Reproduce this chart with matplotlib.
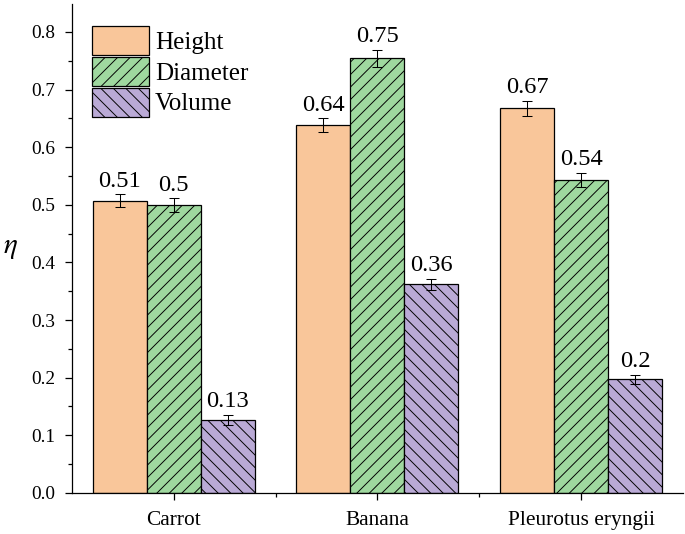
import matplotlib
matplotlib.use('Agg')
import matplotlib.pyplot as plt
import numpy as np
from matplotlib.ticker import MultipleLocator, FixedLocator

plt.rcParams['font.family'] = ['Liberation Serif', 'DejaVu Serif']
plt.rcParams['mathtext.fontset'] = 'stix'
plt.rcParams['hatch.linewidth'] = 0.9

# data
categories = ['Carrot', 'Banana', 'Pleurotus eryngii']
series = ['Height', 'Diameter', 'Volume']
height = [0.507, 0.638, 0.668]
diameter = [0.499, 0.754, 0.543]
volume = [0.126, 0.362, 0.197]
height_err = [0.011, 0.012, 0.013]
diameter_err = [0.012, 0.015, 0.012]
volume_err = [0.009, 0.010, 0.008]
height_lbl = ['0.51', '0.64', '0.67']
diameter_lbl = ['0.5', '0.75', '0.54']
volume_lbl = ['0.13', '0.36', '0.2']

colors = ['#f9c69a', '#9fd89f', '#baaad6']
hatches = ['', '//', '\\\\']

# dpi 75 so the hatch spacing matches the original
fig = plt.figure(figsize=(685/75, 534/75), dpi=75)
ax = fig.add_axes([0.105, 0.077, 0.892, 0.916])

x = np.arange(1, len(categories) + 1)
w = 0.265
vals = [height, diameter, volume]
errs = [height_err, diameter_err, volume_err]
lbls = [height_lbl, diameter_lbl, volume_lbl]

for i in range(3):
    pos = x + (i - 1) * w
    ax.bar(pos, vals[i], w, color=colors[i], edgecolor='black', linewidth=1.2,
           hatch=hatches[i], label=series[i], zorder=2)
    ax.errorbar(pos, vals[i], yerr=errs[i], fmt='none', ecolor='black',
                elinewidth=1.0, capsize=5, capthick=1.0, zorder=3)
    for p, v, e, t in zip(pos, vals[i], errs[i], lbls[i]):
        ax.text(p, v + e + 0.005, t, ha='center', va='bottom', fontsize=23.5)

ax.set_xlim(0.5, 3.5)
ax.set_ylim(0, 0.849)
ax.set_xticks(x)
ax.set_xticklabels(categories, fontsize=20.5)
ax.xaxis.set_minor_locator(FixedLocator([1.5, 2.5]))
ax.yaxis.set_minor_locator(MultipleLocator(0.05))
ax.set_yticks(np.arange(0, 0.81, 0.1))
ax.set_yticklabels(['%.1f' % v for v in np.arange(0, 0.81, 0.1)], fontsize=18.5)
ax.tick_params(axis='both', which='major', direction='out', width=1.2, length=7)
ax.tick_params(axis='both', which='minor', direction='out', width=1.2, length=4)
ax.tick_params(axis='x', which='major', pad=10)
ax.tick_params(axis='y', which='major', pad=9)

for s in ['top', 'right']:
    ax.spines[s].set_visible(False)
for s in ['left', 'bottom']:
    ax.spines[s].set_linewidth(1.2)

ax.set_ylabel(r'$\eta$', fontsize=28, rotation=0, va='center', ha='center')
ax.yaxis.set_label_coords(-0.1, 0.5)

ax.legend(loc='upper left', bbox_to_anchor=(0.016, 0.975), frameon=False, fontsize=24,
          handlelength=2.28, handleheight=1.4, labelspacing=0.08, handletextpad=0.25,
          borderaxespad=0.0)

fig.savefig('out.png', dpi=75)
